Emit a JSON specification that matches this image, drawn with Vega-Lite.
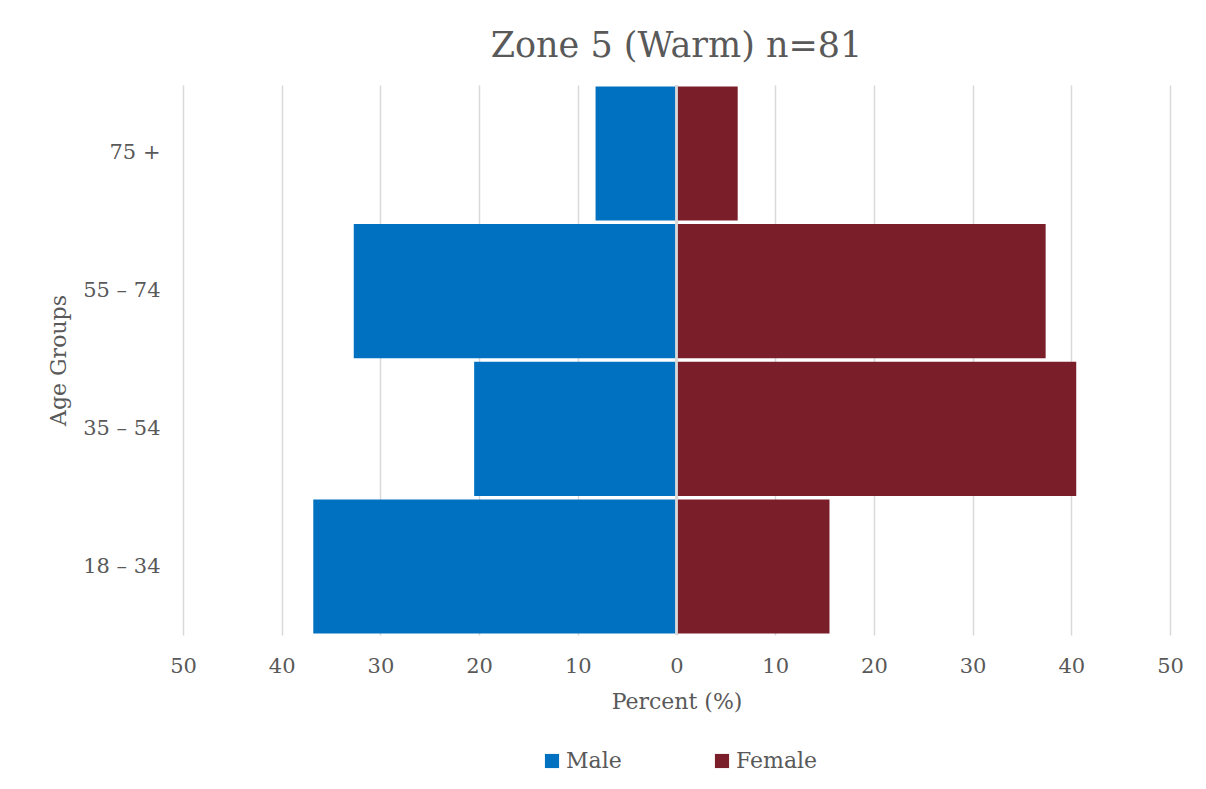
{
  "$schema": "https://vega.github.io/schema/vega-lite/v6.json",
  "autosize": "none",
  "width": 987,
  "height": 550,
  "padding": {"left": 183, "top": 85, "right": 36, "bottom": 154},
  "background": "white",
  "title": {
    "text": "Zone 5 (Warm) n=81",
    "anchor": "middle",
    "font": "DejaVu Serif",
    "fontSize": 35,
    "fontWeight": "normal",
    "color": "#595959",
    "offset": 20
  },
  "data": {
    "values": [
      {"age": "75 +", "sex": "Male", "value": -8.2},
      {"age": "55 – 74", "sex": "Male", "value": -32.7},
      {"age": "35 – 54", "sex": "Male", "value": -20.5},
      {"age": "18 – 34", "sex": "Male", "value": -36.8},
      {"age": "75 +", "sex": "Female", "value": 6.2},
      {"age": "55 – 74", "sex": "Female", "value": 37.4},
      {"age": "35 – 54", "sex": "Female", "value": 40.5},
      {"age": "18 – 34", "sex": "Female", "value": 15.5}
    ]
  },
  "layer": [
    {
      "mark": {"type": "bar"},
      "encoding": {
        "y": {
          "field": "age",
          "type": "nominal",
          "sort": ["75 +", "55 – 74", "35 – 54", "18 – 34"],
          "scale": {"paddingInner": 0.025, "paddingOuter": 0.01},
          "axis": {
            "title": "Age Groups",
            "domain": false,
            "ticks": false,
            "labelPadding": 23,
            "titlePadding": 12,
            "labelFontSize": 21,
            "titleFontSize": 22
          }
        },
        "x": {
          "field": "value",
          "type": "quantitative",
          "scale": {"domain": [-50, 50], "nice": false},
          "axis": {
            "title": "Percent (%)",
            "values": [-50, -40, -30, -20, -10, 0, 10, 20, 30, 40, 50],
            "labelExpr": "abs(datum.value)",
            "labelFlush": false,
            "labelOverlap": false,
            "domain": false,
            "ticks": false,
            "grid": true,
            "labelPadding": 20,
            "titlePadding": 15,
            "labelFontSize": 21,
            "titleFontSize": 22
          }
        },
        "color": {
          "field": "sex",
          "type": "nominal",
          "scale": {"domain": ["Male", "Female"], "range": ["#0070C0", "#7A1F2A"]},
          "legend": {
            "title": null,
            "orient": "none",
            "legendX": 358,
            "legendY": 665,
            "direction": "horizontal",
            "symbolType": "square",
            "symbolSize": 200,
            "labelFontSize": 22,
            "labelOffset": 3,
            "columnPadding": 89
          }
        }
      }
    },
    {
      "mark": {"type": "rule", "color": "#d9d9d9", "strokeWidth": 1.5},
      "encoding": {"x": {"datum": 0}}
    }
  ],
  "config": {
    "font": "DejaVu Serif",
    "view": {"stroke": null},
    "axis": {
      "labelColor": "#595959",
      "titleColor": "#595959",
      "titleFontWeight": "normal",
      "labelFont": "DejaVu Serif",
      "titleFont": "DejaVu Serif",
      "gridColor": "#d9d9d9",
      "gridWidth": 1.5
    },
    "legend": {
      "labelColor": "#595959",
      "labelFont": "DejaVu Serif",
      "symbolStrokeWidth": 0,
      "symbolOpacity": 1
    }
  }
}
